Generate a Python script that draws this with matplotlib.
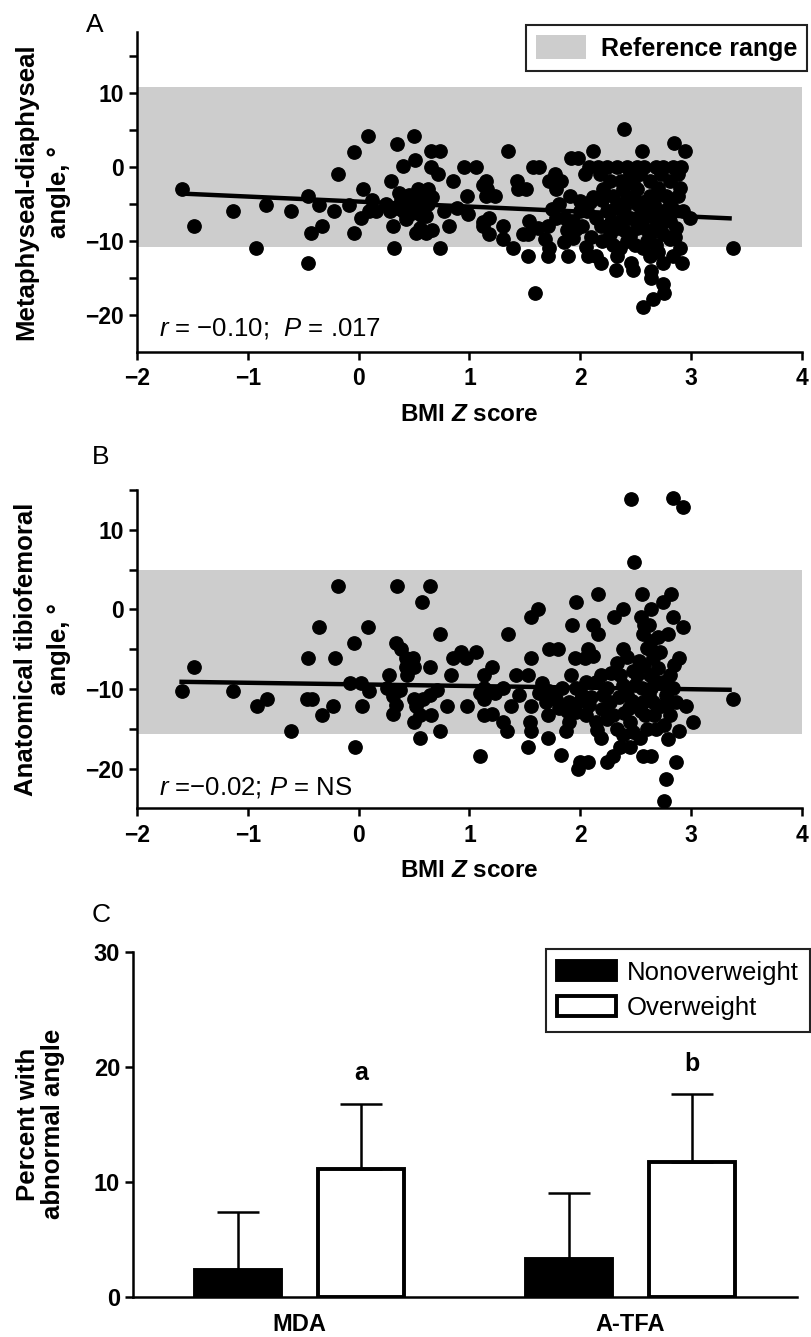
import numpy as np
import matplotlib
matplotlib.use("Agg")
import matplotlib.pyplot as plt
from matplotlib.patches import Patch

plt.rcParams['font.family'] = ['Liberation Sans', 'DejaVu Sans']
plt.rcParams['mathtext.fontset'] = 'custom'
plt.rcParams['mathtext.rm'] = 'Liberation Sans'
plt.rcParams['mathtext.it'] = 'Liberation Sans:italic'
plt.rcParams['mathtext.bf'] = 'Liberation Sans:bold:italic'

# ---- panel A: metaphyseal-diaphyseal angle vs BMI Z score ----
mda_pts = [
    (-1.60, -3.0), (-1.49, -8.0), (-1.14, -6.0), (-0.93, -10.9), (-0.84, -5.1), (-0.61, -6.0),
    (-0.46, -3.9), (-0.36, -5.1), (-0.43, -9.0), (-0.33, -8.0), (-0.46, -13.0), (-0.22, -6.0),
    (-0.19, -1.0), (-0.09, -5.1), (-0.04, 2.0), (0.08, 4.2), (0.04, -3.0), (-0.04, -9.0),
    (0.02, -6.9), (0.09, -6.0), (0.35, 3.1), (0.50, 4.2), (0.51, 1.0), (0.40, 0.1), (0.29, -1.9),
    (0.65, 2.1), (0.73, 2.1), (0.65, 0.0), (0.72, -1.0), (0.85, -1.9), (0.95, 0.0), (1.06, 0.0),
    (0.98, -3.9), (0.31, -8.0), (0.32, -10.9), (0.73, -10.9), (0.82, -8.0), (0.52, -9.0),
    (0.61, -9.0), (0.43, -7.0), (0.28, -6.0), (0.36, -3.5), (0.45, -3.8), (0.54, -3.0),
    (0.63, -3.0), (0.63, -5.0), (0.54, -5.0), (0.45, -5.0), (0.61, -6.7), (0.77, -6.0),
    (1.12, -2.5), (1.12, -7.4), (0.38, -4.5), (0.50, -4.2), (0.58, -4.0), (0.48, -6.2),
    (0.56, -6.5), (0.40, -6.0), (0.66, -4.0), (0.35, -5.5), (0.89, -5.5), (0.99, -6.3),
    (0.16, -5.9), (0.25, -5.0), (0.12, -4.5), (0.55, -8.2), (0.66, -8.5),
    (2.40, 5.1), (1.35, 2.1), (2.12, 2.1), (2.56, 2.1), (2.85, 3.2), (2.95, 2.1), (1.92, 1.2),
    (1.98, 1.2), (1.57, 0.0), (1.63, 0.0), (2.08, 0.0), (2.16, 0.0), (2.24, 0.0), (2.33, 0.0),
    (2.42, 0.0), (2.51, 0.0), (2.58, 0.0), (2.69, 0.0), (2.75, 0.0), (2.84, 0.0), (2.91, 0.0),
    (2.04, -1.0), (1.77, -1.0), (1.72, -1.9), (1.83, -1.9), (1.78, -3.0), (1.43, -1.9),
    (1.44, -3.0), (1.51, -3.0), (1.15, -1.9), (1.16, -3.0), (1.15, -3.9), (1.23, -3.9),
    (2.18, -1.0), (2.21, -3.0), (2.27, -1.9), (2.37, -1.9), (2.45, -1.0), (2.54, -1.0),
    (2.63, -1.9), (2.73, -1.0), (2.81, -1.9), (2.88, -1.0), (2.69, -3.9), (2.78, -3.9),
    (2.88, -3.9), (2.42, -4.1), (2.51, -5.0), (2.33, -5.0), (2.27, -6.0), (1.91, -3.9),
    (2.00, -4.6), (1.81, -5.0), (1.75, -5.7), (1.86, -6.9), (1.94, -7.3), (1.96, -8.4),
    (1.94, -9.6), (1.78, -6.9), (1.71, -8.0), (1.68, -9.8), (1.72, -10.9), (1.71, -12.1),
    (1.62, -8.2), (1.54, -7.3), (1.53, -9.1), (1.48, -9.1), (1.53, -12.1), (1.59, -17.0),
    (1.30, -9.8), (1.39, -10.9), (1.12, -8.0), (1.18, -6.9), (1.18, -9.1), (1.30, -8.0),
    (1.89, -12.1), (2.07, -12.1), (2.14, -12.1), (2.19, -13.0), (2.33, -12.1), (2.32, -13.9),
    (2.46, -13.0), (2.48, -13.9), (2.64, -14.1), (2.64, -15.0), (2.75, -15.9), (2.76, -17.0),
    (2.66, -17.9), (2.57, -19.0), (2.92, -13.0), (2.90, -10.9), (2.84, -12.1), (2.75, -13.0),
    (2.63, -12.1), (2.57, -10.9), (2.69, -10.5), (2.81, -9.8), (2.93, -6.0), (2.99, -6.9),
    (3.38, -10.9), (2.36, -10.9), (2.42, -10.0), (2.27, -9.1), (2.19, -8.0), (2.14, -6.9),
    (2.06, -6.0), (2.09, -4.8), (2.36, -7.3), (2.45, -6.9), (2.51, -8.2), (2.57, -7.1),
    (2.63, -6.0), (2.69, -7.3), (2.75, -6.0), (2.81, -7.3), (2.87, -8.2), (2.63, -9.1),
    (2.45, -9.3), (2.33, -8.2), (2.24, -6.0), (2.75, -9.1), (2.57, -4.8), (2.81, -5.0),
    (2.63, -3.9), (2.39, -3.0), (2.51, -3.0), (2.30, -3.9), (2.00, -6.0),
    (2.20, -4.5), (2.28, -7.5), (2.40, -5.5), (2.48, -4.2), (2.55, -6.2), (2.60, -8.5),
    (2.67, -5.0), (2.72, -8.2), (2.78, -6.8), (2.85, -5.8), (2.86, -9.5), (2.70, -11.5),
    (2.60, -10.0), (2.50, -10.5), (2.40, -8.5), (2.30, -10.5), (2.20, -10.0), (2.10, -9.5),
    (2.02, -8.0), (2.12, -4.0), (2.70, -2.8), (2.48, -2.2), (2.90, -2.8), (1.88, -8.5),
    (1.85, -10.2), (2.05, -10.8),
]
mda_z = [p[0] for p in mda_pts]
mda_angle = [p[1] for p in mda_pts]
mda_fit_x = [-1.60, 3.35]
mda_fit_y = [-3.6, -6.95]
mda_ref = (-10.8, 10.8)

# ---- panel B: anatomical tibiofemoral angle vs BMI Z score ----
atfa_pts = [
    (-1.60, -10.3), (-1.49, -7.2), (-1.14, -10.3), (-0.92, -12.2), (-0.83, -11.3), (-0.61, -15.3),
    (-0.46, -6.1), (-0.47, -11.2), (-0.42, -11.3), (-0.36, -2.2), (-0.33, -13.3), (-0.23, -12.1),
    (-0.21, -6.1), (-0.19, 2.9), (-0.08, -9.3), (-0.04, -4.2), (-0.03, -17.3), (0.02, -9.3),
    (0.03, -12.2), (0.08, -2.2), (0.09, -10.3), (0.35, 2.9), (0.64, 2.9), (0.57, 0.9),
    (0.73, -3.1), (0.34, -4.2), (0.38, -5.0), (0.43, -6.1), (0.49, -6.1), (0.43, -7.2),
    (0.50, -7.2), (0.44, -8.2), (0.27, -8.2), (0.26, -9.9), (0.37, -10.1), (0.31, -10.9),
    (0.34, -12.0), (0.31, -13.1), (0.50, -11.2), (0.52, -12.2), (0.55, -13.3), (0.50, -14.1),
    (0.55, -16.2), (0.65, -13.3), (0.73, -15.3), (0.64, -7.2), (0.58, -11.2), (0.64, -10.8),
    (0.71, -10.1), (0.80, -12.2), (0.83, -8.2), (0.85, -6.1), (0.92, -5.3), (0.97, -6.1),
    (1.06, -5.3), (0.98, -12.2), (1.10, -18.4), (1.13, -8.2), (1.13, -9.9), (1.13, -11.2),
    (1.13, -13.3),
    (2.46, 13.9), (2.93, 12.9), (2.84, 14.0), (2.49, 5.9), (2.16, 1.9), (1.96, 0.9), (2.56, 1.9),
    (2.82, 1.9), (2.75, 0.9), (2.64, 0.0), (2.39, 0.0), (2.31, -1.0), (2.55, -1.0), (2.58, -2.0),
    (2.84, -1.0), (2.93, -2.2), (2.79, -3.1), (2.57, -3.1), (2.12, -2.0), (2.16, -3.1),
    (1.93, -2.0), (1.62, 0.0), (1.56, -1.0), (1.35, -3.1), (1.72, -5.0), (1.80, -5.0),
    (2.07, -5.0), (2.39, -5.0), (1.56, -6.1), (1.95, -6.1), (2.04, -6.1), (2.12, -5.9),
    (2.89, -6.1), (2.63, -5.0), (1.20, -7.2), (1.92, -8.2), (1.42, -8.2), (1.53, -8.2),
    (1.66, -9.3), (1.38, -12.1), (1.20, -13.1), (1.30, -14.1), (1.34, -15.3), (1.56, -12.1),
    (1.55, -14.1), (1.56, -15.3), (1.53, -17.3), (1.71, -16.2), (1.71, -13.3), (1.83, -18.3),
    (1.87, -15.3), (1.90, -14.1), (1.98, -20.0), (2.07, -19.2), (2.00, -19.2), (2.24, -19.2),
    (2.30, -18.4), (2.36, -17.3), (2.45, -17.3), (2.57, -18.4), (2.64, -18.4), (2.79, -16.3),
    (2.87, -19.2), (2.78, -21.3), (2.76, -24.1), (2.19, -16.2), (3.02, -14.1), (2.89, -15.3),
    (2.96, -12.2), (3.38, -11.2), (2.81, -13.3),
    (1.72, -10.3), (1.78, -11.2), (1.81, -12.4), (1.90, -11.6), (1.96, -12.9), (2.02, -10.8),
    (2.08, -12.0), (2.14, -9.1), (2.19, -8.2), (2.24, -9.9), (2.27, -11.6), (2.30, -13.3),
    (2.33, -6.7), (2.36, -8.2), (2.39, -9.5), (2.42, -10.8), (2.44, -12.4), (2.45, -14.1),
    (2.48, -15.4), (2.51, -8.2), (2.53, -6.5), (2.56, -9.9), (2.57, -11.6), (2.59, -13.3),
    (2.60, -15.0), (2.63, -8.2), (2.64, -9.9), (2.66, -11.6), (2.67, -13.3), (2.69, -15.0),
    (2.70, -7.4), (2.72, -5.3), (2.75, -9.1), (2.78, -10.8), (2.81, -8.2), (2.84, -9.9),
    (2.87, -11.6), (2.64, -4.0), (2.66, -6.1), (2.60, -4.8), (2.21, -10.8), (2.05, -9.1),
    (1.96, -9.9), (1.84, -9.9), (1.69, -11.6), (1.63, -10.5), (1.45, -10.8), (1.30, -9.9),
    (1.23, -10.5), (1.10, -10.5), (2.05, -13.3), (2.14, -14.1), (2.24, -13.8), (2.33, -15.0),
    (2.39, -15.8), (2.54, -16.2),
    (2.20, -12.5), (2.28, -8.0), (2.35, -11.0), (2.40, -13.0), (2.47, -11.5), (2.50, -9.5),
    (2.55, -12.8), (2.62, -10.8), (2.68, -9.0), (2.73, -12.2), (2.76, -14.5), (2.80, -11.8),
    (2.85, -7.0), (2.48, -7.8), (2.42, -6.0), (2.58, -7.0), (2.10, -11.0), (2.00, -11.5),
    (1.88, -12.8), (2.15, -15.2), (2.70, -3.5), (2.62, -2.0),
]
atfa_z = [p[0] for p in atfa_pts]
atfa_angle = [p[1] for p in atfa_pts]
atfa_fit_x = [-1.60, 3.35]
atfa_fit_y = [-9.1, -10.1]
atfa_ref = (-15.6, 5.0)

# ---- panel C: percent with abnormal angle ----
measures = ['MDA', 'A-TFA']
nonoverweight = [2.3, 3.3]
nonoverweight_err = [5.1, 5.7]
overweight = [11.1, 11.7]
overweight_err = [5.7, 5.9]
letters = ['a', 'b']

band_grey = '#cdcdcd'
fig = plt.figure(figsize=(8.11, 13.37), dpi=100)


def minus(v):
    return str(v).replace('-', '\u2212')


def scatter_panel(rect, xs, ys, fit_x, fit_y, ref, ylim, ylabel, note, note_y):
    ax = fig.add_axes(rect)
    ax.axhspan(ref[0], ref[1], color=band_grey, lw=0, zorder=0)
    ax.plot(xs, ys, 'o', color='black', ms=9.6, mec='black', zorder=2)
    ax.plot(fit_x, fit_y, color='black', lw=3.2, zorder=3)
    ax.set_xlim(-2, 4)
    ax.set_ylim(*ylim)
    ax.set_xticks(range(-2, 5), [minus(v) for v in range(-2, 5)])
    yt = [v for v in range(-20, 20, 5) if v <= ylim[1]]
    ax.set_yticks(yt, [(minus(v) if v % 10 == 0 else '') for v in yt])
    for s in ['top', 'right']:
        ax.spines[s].set_visible(False)
    for s in ['left', 'bottom']:
        ax.spines[s].set_linewidth(1.8)
    ax.tick_params(width=1.8, length=6, labelsize=16.5)
    ax.tick_params(axis='x', pad=5)
    for lab in ax.get_xticklabels() + ax.get_yticklabels():
        lab.set_fontweight('bold')
    ax.set_xlabel('BMI $\\mathbf{Z}$ score', fontsize=17.5, fontweight='bold', labelpad=9)
    ax.set_ylabel(ylabel, fontsize=18.5, fontweight='bold', linespacing=1.45)
    ax.yaxis.set_label_coords(-0.10, 0.5)
    ax.text(-1.80, note_y, note, fontsize=18.5, va='center', ha='left')
    return ax


axA = scatter_panel([0.1693, 0.7369, 0.8190, 0.2394], mda_z, mda_angle, mda_fit_x, mda_fit_y,
                    mda_ref, (-25, 18.3), 'Metaphyseal-diaphyseal\nangle, \u00b0',
                    '$r$ = \u22120.10;  $P$ = .017', -21.9)
axB = scatter_panel([0.1693, 0.3954, 0.8190, 0.2381], atfa_z, atfa_angle, atfa_fit_x, atfa_fit_y,
                    atfa_ref, (-25, 15), 'Anatomical tibiofemoral\nangle, \u00b0',
                    '$r$ =\u22120.02; $P$ = NS', -22.4)

legA = axA.legend(handles=[Patch(facecolor=band_grey, edgecolor='none', label='Reference range')],
                  loc='upper right', bbox_to_anchor=(0.995, 0.9813), bbox_transform=fig.transFigure,
                  fancybox=False, edgecolor='#222222', framealpha=1, borderaxespad=0,
                  prop={'size': 18, 'weight': 'bold'}, handlelength=2.0, handleheight=1.1,
                  borderpad=0.4, handletextpad=0.6)
legA.get_frame().set_linewidth(1.5)

# ---- bar panel ----
axC = fig.add_axes([0.1644, 0.0301, 0.8184, 0.2581])
pos = np.arange(len(measures))
w = 0.26
off = 0.186
axC.bar(pos - off, nonoverweight, w, color='black', edgecolor='black', lw=2.8,
        label='Nonoverweight', zorder=2)
axC.bar(pos + off, overweight, w, color='white', edgecolor='black', lw=2.8,
        label='Overweight', zorder=2)
axC.errorbar(pos - off, nonoverweight, yerr=[np.zeros(2), nonoverweight_err], fmt='none',
             ecolor='black', elinewidth=1.8, capsize=15, capthick=1.8, zorder=3)
axC.errorbar(pos + off, overweight, yerr=[np.zeros(2), overweight_err], fmt='none',
             ecolor='black', elinewidth=1.8, capsize=15, capthick=1.8, zorder=3)
for i, t in enumerate(letters):
    axC.text(pos[i] + off, overweight[i] + overweight_err[i] + 1.6, t, ha='center',
             va='bottom', fontsize=18, fontweight='bold')
axC.set_xlim(-0.502, 1.503)
axC.set_ylim(0, 30)
axC.set_xticks(pos, measures)
axC.set_yticks([0, 10, 20, 30])
for s in ['top', 'right']:
    axC.spines[s].set_visible(False)
for s in ['left', 'bottom']:
    axC.spines[s].set_linewidth(1.8)
axC.tick_params(axis='y', width=1.8, length=6, labelsize=17)
axC.tick_params(axis='x', length=0, labelsize=17, pad=12)
for lab in axC.get_xticklabels() + axC.get_yticklabels():
    lab.set_fontweight('bold')
axC.set_ylabel('Percent with\nabnormal angle', fontsize=18.5, fontweight='bold', linespacing=1.05)
axC.yaxis.set_label_coords(-0.103, 0.5)
leg = axC.legend(loc='upper right', bbox_to_anchor=(0.9988, 0.2902), bbox_transform=fig.transFigure,
                 fancybox=False, edgecolor='#222222', framealpha=1, borderaxespad=0,
                 prop={'size': 18.5}, handlelength=2.3, handleheight=0.8, borderpad=0.45,
                 handletextpad=0.4, labelspacing=0.45)
leg.get_frame().set_linewidth(1.5)

# panel letters
for letter, (px, py) in zip('ABC', [(95, 25), (101, 457), (101, 915)]):
    fig.text(px / 811, 1 - py / 1337, letter, fontsize=19, ha='center', va='center')

fig.savefig('out.png', dpi=100)
